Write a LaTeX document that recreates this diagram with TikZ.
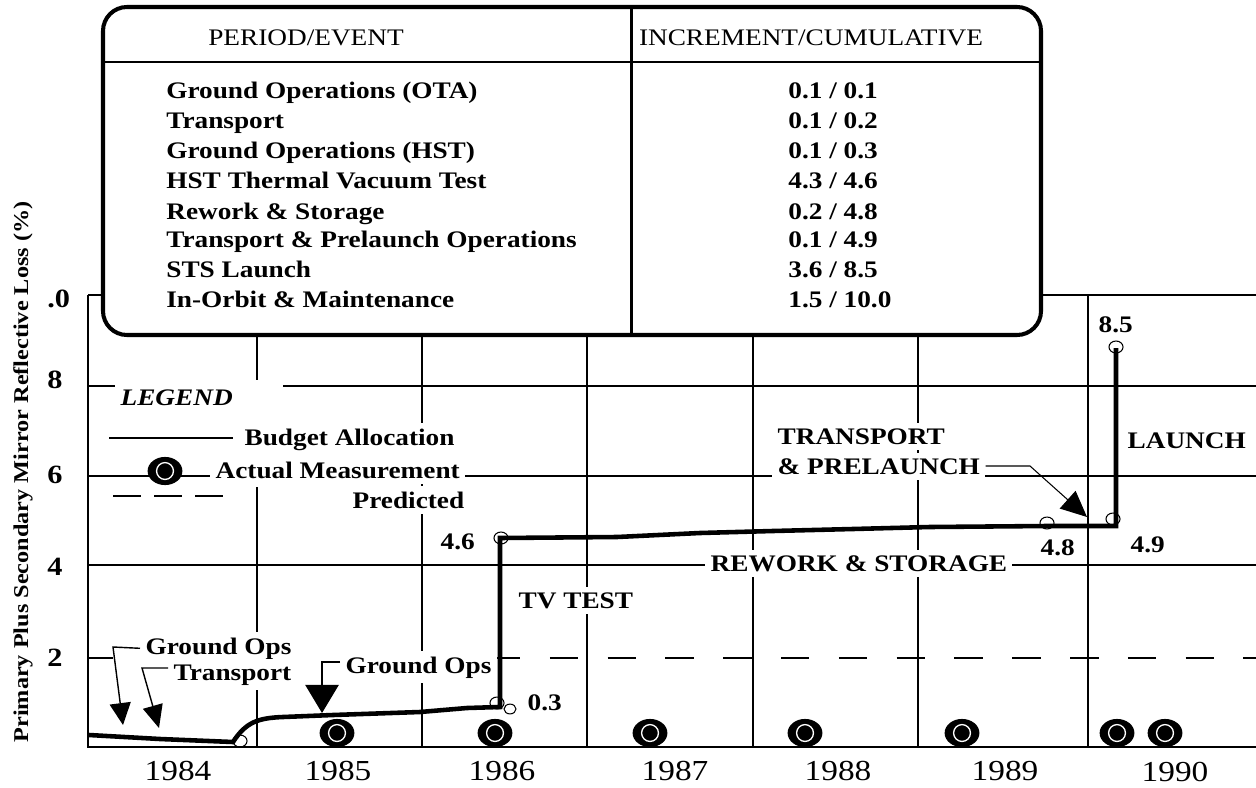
\documentclass[tikz,border=0pt]{standalone}
\usepackage{fontspec}
\setmainfont{Liberation Serif}[FakeStretch=1.15]
\usepackage{tikz}
\usetikzlibrary{arrows.meta}

\begin{document}
\begin{tikzpicture}[x=0.02cm, y=-0.02cm,
    grid/.style={line width=0.85pt},
    hdr/.style={font=\fontsize{13.5}{16}\selectfont, anchor=base, inner sep=0pt},
    row/.style={font=\bfseries\fontsize{13.5}{16}\selectfont, anchor=base west, inner sep=0pt},
    note/.style={font=\bfseries\fontsize{13.5}{16}\selectfont, anchor=base west, fill=white, inner sep=3pt},
    ytk/.style={font=\bfseries\fontsize{15}{18}\selectfont, anchor=base west, inner sep=0pt},
    yr/.style={font=\fontsize{16.5}{20}\selectfont, anchor=base, inner sep=0pt},
    dataline/.style={line width=2.6pt},
    opn/.style={line width=0.6pt},
    ldr/.style={line width=0.8pt},
    measpt/.pic={
      \fill (0,0) ellipse [x radius=9.9pt, y radius=8pt];
      \draw[white, line width=0.75pt] (0,0) circle [radius=4.8pt];
    }]

  \useasboundingbox (0,0) rectangle (1256,787);
  \fill[white] (0,0) rectangle (1256,787);

  % ----- Grid -----
  \draw[grid] (88,295) -- (88,747) -- (1256,747);
  \draw[grid] (88,295) -- (103,295);
  \draw[grid] (1041,295) -- (1256,295);
  \draw[grid] (88,386) -- (117,386);
  \draw[grid] (283,386) -- (1256,386);
  \draw[grid] (88,476) -- (1256,476);
  \draw[grid] (88,565) -- (1256,565);
  \draw[grid] (88,658) -- (113,658);
  \draw[grid, dash pattern=on 16.2pt off 16.7pt] (492,658) -- (1256,658);
  \draw[grid] (257,337) -- (257,380);
  \draw[grid] (257,487) -- (257,747);
  \foreach \gx in {422,587,753,918}
    \draw[grid] (\gx,337) -- (\gx,747);
  \draw[grid] (1088,295) -- (1088,747);

  % ----- Table -----
  \draw[line width=2.3pt, fill=white, rounded corners=0.48cm] (103,7) rectangle (1041,335);
  \draw[line width=1.2pt] (103,62) -- (1041,62);
  \draw[line width=1.7pt] (631,7) -- (631,335);

  \node[hdr] (hperiod) at (306,46) {PERIOD/EVENT};
  \node[hdr] (hincr) at (811,46) {INCREMENT/CUMULATIVE};

  \node[row] (ev1) at (166,99)  {Ground Operations (OTA)};
  \node[row] (ev2) at (166,129) {Transport};
  \node[row] (ev3) at (166,159) {Ground Operations (HST)};
  \node[row] (ev4) at (166,189) {HST Thermal Vacuum Test};
  \node[row] (ev5) at (166,219) {Rework \& Storage};
  \node[row] (ev6) at (166,247) {Transport \& Prelaunch Operations};
  \node[row] (ev7) at (166,277) {STS Launch};
  \node[row] (ev8) at (166,307) {In-Orbit \& Maintenance};

  \node[row] (val1) at (788,99)  {0.1 / 0.1};
  \node[row] (val2) at (788,129) {0.1 / 0.2};
  \node[row] (val3) at (788,159) {0.1 / 0.3};
  \node[row] (val4) at (788,189) {4.3 / 4.6};
  \node[row] (val5) at (788,219) {0.2 / 4.8};
  \node[row] (val6) at (788,247) {0.1 / 4.9};
  \node[row] (val7) at (788,277) {3.6 / 8.5};
  \node[row] (val8) at (788,307) {1.5 / 10.0};

  % ----- Axis labels -----
  \node[font=\bfseries\fontsize{12}{14}\selectfont, rotate=90, inner sep=0pt] (ytitle) at (23,472)
    {Primary Plus Secondary Mirror Reflective Loss (\%)};
  \node[ytk] (y10) at (47,307) {.0};
  \node[ytk] (y8) at (47,388) {8};
  \node[ytk] (y6) at (47,483) {6};
  \node[ytk] (y4) at (47,575) {4};
  \node[ytk] (y2) at (47,666) {2};

  \node[yr] (yr84) at (178,780) {1984};
  \node[yr] (yr85) at (338,780) {1985};
  \node[yr] (yr86) at (502,780) {1986};
  \node[yr] (yr87) at (675,780) {1987};
  \node[yr] (yr88) at (838,780) {1988};
  \node[yr] (yr89) at (1005,780) {1989};
  \node[yr] (yr90) at (1175,781) {1990};

  % ----- Legend -----
  \node[note, font=\bfseries\itshape\fontsize{13.5}{16}\selectfont] (legend) at (115,405) {LEGEND};
  \draw[grid] (109,438) -- (233,438);
  \node[note] (budget) at (239,445) {Budget Allocation};
  \pic at (165,471) {measpt};
  \node[note] (actual) at (210,478) {Actual Measurement};
  \node[note] (predicted) at (347,508) {Predicted};
  \draw[grid, dash pattern=on 16pt off 7.4pt] (113,496) -- (223,496);

  % ----- Event labels -----
  \node[note] (gopsA) at (140,654) {Ground Ops};
  \node[note] (transA) at (168,680) {Transport};
  \node[note] (gopsB) at (340,673) {Ground Ops};
  \node[note] (lbl46) at (435,549) {4.6};
  \node[note] (lbl03) at (522,710) {0.3};
  \node[note] (tvtest) at (513,608) {TV TEST};
  \node[note] (rework) at (705,571) {REWORK \& STORAGE};
  \node[note] (transp) at (772,444) {TRANSPORT};
  \node[note] (prel) at (772,474) {\& PRELAUNCH};
  \node[note] (lbl48) at (1035,555) {4.8};
  \node[note] (lbl49) at (1125,552) {4.9};
  \node[note] (lbl85) at (1093,332) {8.5};
  \node[note] (launch) at (1122,448) {LAUNCH};

  % ----- Actual measurements -----
  \pic at (337,733) {measpt};
  \pic at (495,733) {measpt};
  \pic at (650,733) {measpt};
  \pic at (805,733) {measpt};
  \pic at (962,733) {measpt};
  \pic at (1117,733) {measpt};
  \pic at (1165,733) {measpt};

  % ----- Budget allocation curve -----
  \draw[dataline] (89,735) -- (160,739) -- (233,742)
    .. controls (246,722) and (258,718) .. (283,717)
    -- (333,715) -- (420,712) -- (467,708) -- (500,707) -- (500,538)
    -- (617,537) -- (700,533) -- (773,531) -- (853,529) -- (930,527)
    -- (1047,526) -- (1116,526) -- (1116,348);
  \draw[opn] (240,741) ellipse [x radius=4pt, y radius=3.4pt];
  \draw[opn] (497,703) ellipse [x radius=4pt, y radius=3.4pt];
  \draw[opn] (510,709) ellipse [x radius=3.4pt, y radius=2.8pt];
  \draw[opn] (501,538) ellipse [x radius=4pt, y radius=3.4pt];
  \draw[opn] (1047,523) ellipse [x radius=4pt, y radius=3.4pt];
  \draw[opn] (1113,519) ellipse [x radius=4pt, y radius=3.4pt];
  \draw[opn] (1116,347) ellipse [x radius=4pt, y radius=3.4pt];

  % ----- Leaders -----
  \coordinate (gA1) at (113,647);
  \coordinate (gAtip) at (123,725);
  \draw[ldr, -{Triangle[length=12.5pt, width=12pt]}] (gopsA.west) -- (gA1) -- (gAtip);

  \coordinate (tA1) at (142,668);
  \coordinate (tAtip) at (159,728);
  \draw[ldr, -{Triangle[length=13pt, width=11.5pt]}] (transA.west |- tA1) -- (tA1) -- (tAtip);

  \coordinate (gB1) at (322,662);
  \coordinate (gBtip) at (322,713);
  \draw[ldr, -{Triangle[length=16pt, width=19pt]}] (gopsB.west |- gB1) -- (gB1) -- (gBtip);

  \coordinate (tp1) at (1030,466);
  \coordinate (tptip) at (1087,517);
  \draw[line width=0.6pt, -{Triangle[length=14.8pt, width=13.4pt]}] (prel.east |- tp1) -- (tp1) -- (tptip);

\end{tikzpicture}
\end{document}
